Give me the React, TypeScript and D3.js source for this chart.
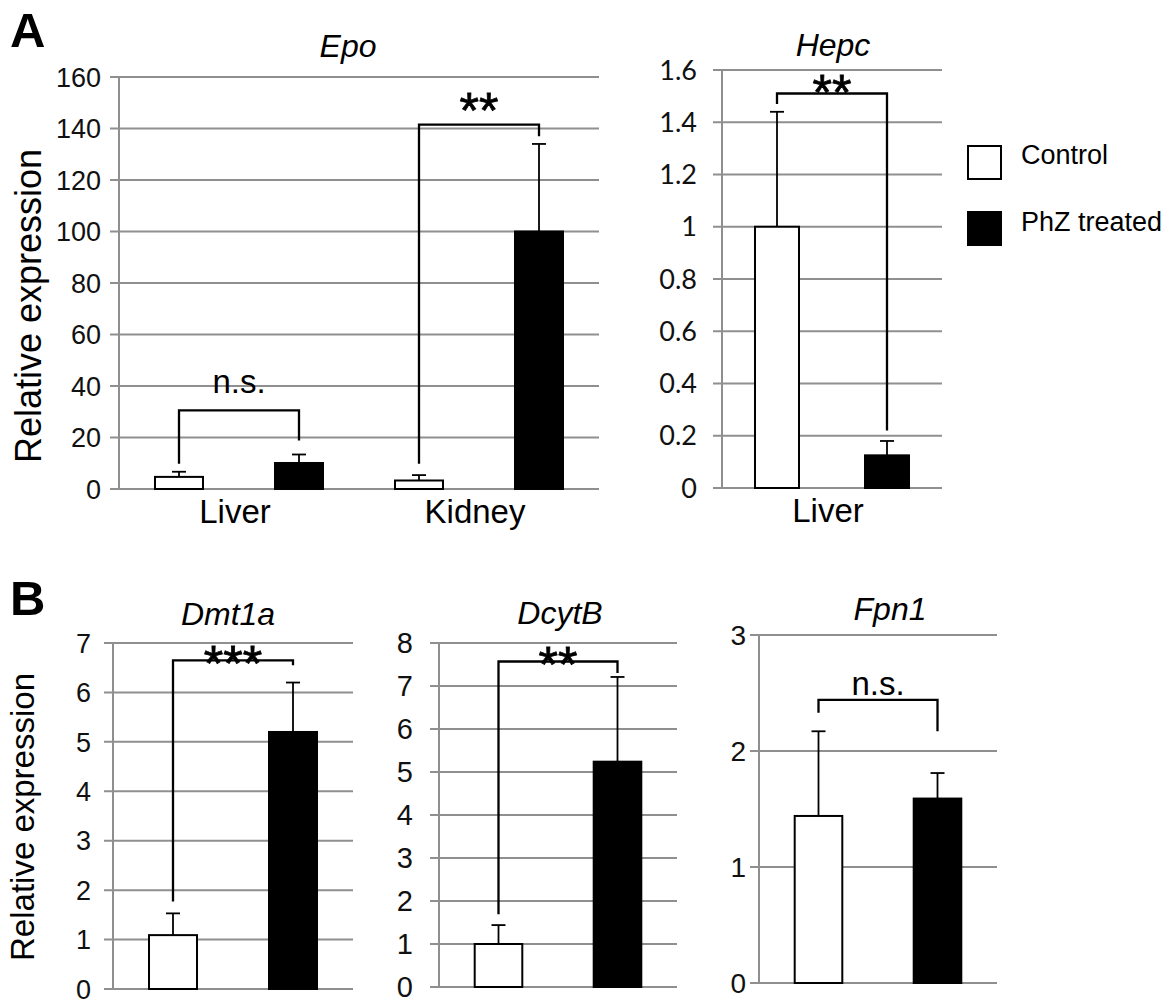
import React from "react";
import * as d3 from "d3";

// ---------- data ----------
const groups = ["Control", "PhZ treated"];

const epoCategories = ["Liver", "Kidney"];
const epoControl = [4.7, 3.3];
const epoControlSD = [2.0, 2.1];
const epoPhZ = [10.1, 100];
const epoPhZSD = [3.3, 34];
const epoTicks = [0, 20, 40, 60, 80, 100, 120, 140, 160];
const epoTickLabels = ["0", "20", "40", "60", "80", "100", "120", "140", "160"];

const hepcCategories = ["Liver"];
const hepcControl = [1.0];
const hepcControlSD = [0.44];
const hepcPhZ = [0.125];
const hepcPhZSD = [0.055];
const hepcTicks = [0, 0.2, 0.4, 0.6, 0.8, 1.0, 1.2, 1.4, 1.6];
const hepcTickLabels = ["0", "0.2", "0.4", "0.6", "0.8", "1", "1.2", "1.4", "1.6"];

const dmt1aCategories = [""];
const dmt1aControl = [1.09];
const dmt1aControlSD = [0.44];
const dmt1aPhZ = [5.2];
const dmt1aPhZSD = [1.0];
const dmt1aTicks = [0, 1, 2, 3, 4, 5, 6, 7];
const dmt1aTickLabels = ["0", "1", "2", "3", "4", "5", "6", "7"];

const dcytbCategories = [""];
const dcytbControl = [1.0];
const dcytbControlSD = [0.44];
const dcytbPhZ = [5.24];
const dcytbPhZSD = [1.97];
const dcytbTicks = [0, 1, 2, 3, 4, 5, 6, 7, 8];
const dcytbTickLabels = ["0", "1", "2", "3", "4", "5", "6", "7", "8"];

const fpn1Categories = [""];
const fpn1Control = [1.44];
const fpn1ControlSD = [0.73];
const fpn1PhZ = [1.59];
const fpn1PhZSD = [0.22];
const fpn1Ticks = [0, 1, 2, 3];
const fpn1TickLabels = ["0", "1", "2", "3"];

// significance brackets: bracket height, left/right leg ends, label, label position (data units)
const epoBrackets = [
  { cat: "Liver", y: 30.5, left: 9.8, right: 18.8, label: "n.s.", labelY: 37.3, star: false },
  { cat: "Kidney", y: 141.5, left: 9.8, right: 137, label: "**", labelY: 151.5, star: true },
];
const hepcBrackets = [
  { cat: "Liver", y: 1.51, left: 1.47, right: 0.22, label: "**", labelY: 1.558, star: true },
];
const dmt1aBrackets = [
  { cat: "", y: 6.65, left: 1.77, right: 6.55, label: "***", labelY: 6.81, star: true },
];
const dcytbBrackets = [
  { cat: "", y: 7.57, left: 1.69, right: 7.3, label: "**", labelY: 7.76, star: true },
];
const fpn1Brackets = [
  { cat: "", y: 2.44, left: 2.33, right: 2.17, label: "n.s.", labelY: 2.48, star: false },
];

// ---------- styling / layout ----------
const ARIAL = "'Liberation Sans', Arial, Helvetica, sans-serif";
const NARROW = "'Liberation Sans Narrow', 'Arial Narrow', 'Liberation Sans', sans-serif";
const CALIBRI = "Lato, 'Open Sans', sans-serif";
const GRID = "#8f8f8f";

type PanelCfg = {
  title: string;
  titleX: number;
  titleY: number;
  categories: string[];
  control: number[];
  controlSD: number[];
  phz: number[];
  phzSD: number[];
  ticks: number[];
  tickLabels: string[];
  max: number;
  xLeft: number;
  xRight: number;
  yTop: number;
  yBottom: number;
  tickFont: string;
  tickSize: number;
  tickGap: number;
  brackets: any[];
  catLabelY?: number;
};

const panels: PanelCfg[] = [
  {
    title: "Epo", titleX: 348, titleY: 57,
    categories: epoCategories, control: epoControl, controlSD: epoControlSD, phz: epoPhZ, phzSD: epoPhZSD,
    ticks: epoTicks, tickLabels: epoTickLabels, max: 160,
    xLeft: 119, xRight: 599, yTop: 77, yBottom: 489,
    tickFont: ARIAL, tickSize: 27, tickGap: 18, brackets: epoBrackets, catLabelY: 523,
  },
  {
    title: "Hepc", titleX: 833, titleY: 56,
    categories: hepcCategories, control: hepcControl, controlSD: hepcControlSD, phz: hepcPhZ, phzSD: hepcPhZSD,
    ticks: hepcTicks, tickLabels: hepcTickLabels, max: 1.6,
    xLeft: 722, xRight: 942, yTop: 70, yBottom: 488,
    tickFont: CALIBRI, tickSize: 27, tickGap: 25, brackets: hepcBrackets, catLabelY: 522,
  },
  {
    title: "Dmt1a", titleX: 228, titleY: 625,
    categories: dmt1aCategories, control: dmt1aControl, controlSD: dmt1aControlSD, phz: dmt1aPhZ, phzSD: dmt1aPhZSD,
    ticks: dmt1aTicks, tickLabels: dmt1aTickLabels, max: 7,
    xLeft: 113, xRight: 353, yTop: 643, yBottom: 989,
    tickFont: ARIAL, tickSize: 27, tickGap: 22, brackets: dmt1aBrackets,
  },
  {
    title: "DcytB", titleX: 560, titleY: 624,
    categories: dcytbCategories, control: dcytbControl, controlSD: dcytbControlSD, phz: dcytbPhZ, phzSD: dcytbPhZSD,
    ticks: dcytbTicks, tickLabels: dcytbTickLabels, max: 8,
    xLeft: 439, xRight: 677, yTop: 643, yBottom: 987,
    tickFont: NARROW, tickSize: 29, tickGap: 26, brackets: dcytbBrackets,
  },
  {
    title: "Fpn1", titleX: 890, titleY: 620,
    categories: fpn1Categories, control: fpn1Control, controlSD: fpn1ControlSD, phz: fpn1PhZ, phzSD: fpn1PhZSD,
    ticks: fpn1Ticks, tickLabels: fpn1TickLabels, max: 3,
    xLeft: 759, xRight: 997, yTop: 635, yBottom: 983,
    tickFont: NARROW, tickSize: 28, tickGap: 13, brackets: fpn1Brackets,
  },
];

const STAR_SIZE = 50;

function Panel({ cfg }: { cfg: PanelCfg }) {
  const y = d3.scaleLinear().domain([0, cfg.max]).range([cfg.yBottom, cfg.yTop]);
  const xBand = d3.scaleBand<string>().domain(cfg.categories).range([cfg.xLeft, cfg.xRight]);
  const xInner = d3.scalePoint<string>().domain(groups).range([0, xBand.bandwidth()]).padding(0.5);
  const bw = xInner.step() * 0.4;
  const cap = 7;
  const cx = (cat: string, g: string) => (xBand(cat) as number) + (xInner(g) as number);

  const bars: any[] = [];
  cfg.categories.forEach((c, i) => {
    bars.push({ cat: c, g: groups[0], v: cfg.control[i], sd: cfg.controlSD[i] });
    bars.push({ cat: c, g: groups[1], v: cfg.phz[i], sd: cfg.phzSD[i] });
  });

  return (
    <g>
      {cfg.ticks.map((t, i) => (
        <g key={"t" + i}>
          <line x1={cfg.xLeft - 9} x2={cfg.xRight} y1={y(t)} y2={y(t)} stroke={GRID} strokeWidth={2} />
          <text
            x={cfg.xLeft - cfg.tickGap}
            y={y(t)}
            dy="0.36em"
            textAnchor="end"
            fontFamily={cfg.tickFont}
            fontSize={cfg.tickSize}
            fill="#111"
          >
            {cfg.tickLabels[i]}
          </text>
        </g>
      ))}
      <line x1={cfg.xLeft} x2={cfg.xLeft} y1={y(cfg.max)} y2={y(0)} stroke={GRID} strokeWidth={2} />

      {bars.map((b, i) => {
        const x = cx(b.cat, b.g);
        const filled = b.g === groups[1];
        return (
          <g key={"b" + i}>
            <line x1={x} x2={x} y1={y(b.v)} y2={y(b.v + b.sd)} stroke="#000" strokeWidth={1.8} />
            <line x1={x - cap} x2={x + cap} y1={y(b.v + b.sd)} y2={y(b.v + b.sd)} stroke="#000" strokeWidth={1.8} />
            <rect
              x={x - bw / 2}
              y={y(b.v)}
              width={bw}
              height={y(0) - y(b.v)}
              fill={filled ? "#000" : "#fff"}
              stroke="#000"
              strokeWidth={2}
            />
          </g>
        );
      })}

      {cfg.brackets.map((br, i) => {
        const xl = cx(br.cat, groups[0]);
        const xr = cx(br.cat, groups[1]);
        const path = d3.path();
        path.moveTo(xl, y(br.left));
        path.lineTo(xl, y(br.y));
        path.lineTo(xr, y(br.y));
        path.lineTo(xr, y(br.right));
        const mid = (xl + xr) / 2;
        return (
          <g key={"br" + i}>
            <path d={path.toString()} fill="none" stroke="#000" strokeWidth={2.3} />
            {br.star ? (
              <text
                x={mid}
                y={y(br.labelY) + STAR_SIZE * 0.58}
                textAnchor="middle"
                fontFamily={ARIAL}
                fontSize={STAR_SIZE}
                fill="#000"
                stroke="#000"
                strokeWidth={0.8}
              >
                {br.label}
              </text>
            ) : (
              <text x={mid} y={y(br.labelY)} textAnchor="middle" fontFamily={ARIAL} fontSize={33} fill="#000">
                {br.label}
              </text>
            )}
          </g>
        );
      })}

      {cfg.catLabelY !== undefined &&
        cfg.categories.map((c) => (
          <text
            key={"c" + c}
            x={(xBand(c) as number) + xBand.bandwidth() / 2 - 4}
            y={cfg.catLabelY}
            textAnchor="middle"
            fontFamily={ARIAL}
            fontSize={33}
            fill="#000"
          >
            {c}
          </text>
        ))}

      <text x={cfg.titleX} y={cfg.titleY} textAnchor="middle" fontFamily={ARIAL} fontStyle="italic" fontSize={32} fill="#000">
        {cfg.title}
      </text>
    </g>
  );
}

export default function App() {
  return (
    <div style={{ position: "absolute", left: 0, top: 0, width: 1174, height: 1002, background: "#fff" }}>
      <svg width={1174} height={1002} viewBox="0 0 1174 1002" style={{ display: "block" }}>
        <rect width={1174} height={1002} fill="#fff" />
        <text x={10} y={47} fontFamily={ARIAL} fontWeight="bold" fontSize={49} fill="#000">A</text>
        <text x={10} y={615} fontFamily={ARIAL} fontWeight="bold" fontSize={49} fill="#000">B</text>

        <text
          transform="translate(41,306) rotate(-90)"
          textAnchor="middle"
          fontFamily={ARIAL}
          fontSize={36}
          fill="#000"
        >
          Relative expression
        </text>
        <text
          transform="translate(34,817) rotate(-90)"
          textAnchor="middle"
          fontFamily={ARIAL}
          fontSize={33}
          fill="#000"
        >
          Relative expression
        </text>

        {panels.map((p) => (
          <Panel key={p.title} cfg={p} />
        ))}

        {groups.map((g, i) => (
          <g key={"lg" + g}>
            <rect
              x={968}
              y={146 + i * 66}
              width={33}
              height={33}
              fill={i === 1 ? "#000" : "#fff"}
              stroke="#000"
              strokeWidth={2}
            />
            <text x={1021} y={164 + i * 67} fontFamily={ARIAL} fontSize={27} fill="#000">
              {g}
            </text>
          </g>
        ))}
      </svg>
    </div>
  );
}
